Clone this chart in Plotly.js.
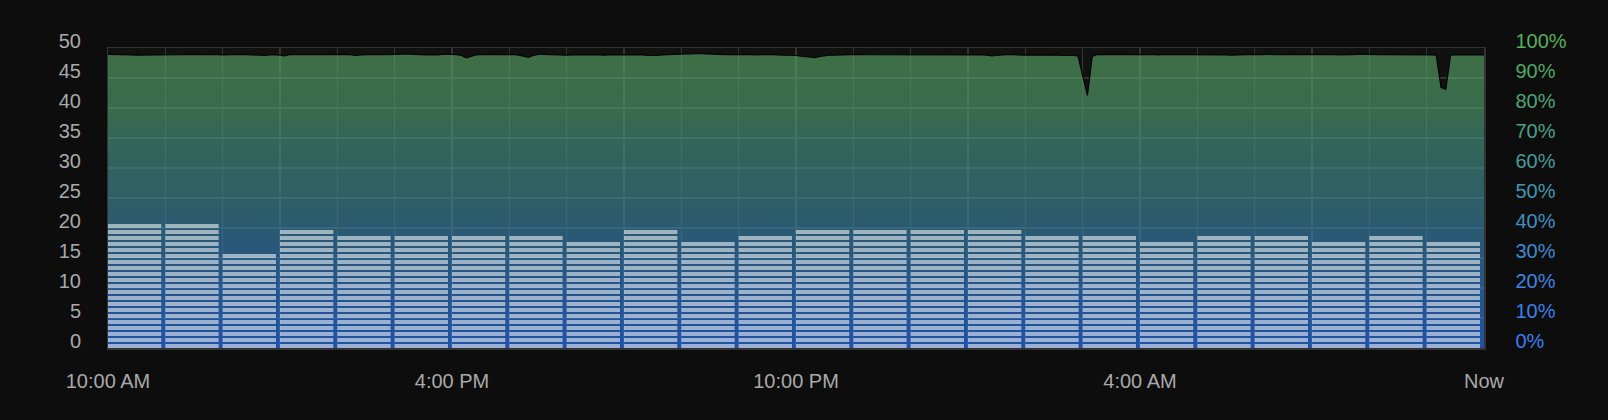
<!DOCTYPE html>
<html>
<head>
<meta charset="utf-8">
<script src="https://cdn.plot.ly/plotly-3.0.1.min.js"></script>
<style>
html,body{margin:0;padding:0;background:#0d0d0d;}
#chart{width:1608px;height:420px;}
</style>
</head>
<body>
<div id="chart"></div>
<script>
// ---------- data ----------
const startTime = Date.UTC(2024, 0, 1, 10, 0, 0);      // 10:00 AM
const xTickLabels = ['10:00 AM', '4:00 PM', '10:00 PM', '4:00 AM', 'Now'];

// count of segments per hourly bar (left axis)
const hourlyCounts = [21, 21, 16, 20, 19, 19, 19, 19, 18, 20, 18, 19,
                      20, 20, 20, 20, 19, 19, 18, 19, 19, 18, 19, 18];

// percentage series, one reading every 5 minutes (right axis)
const uptimePct = [
  97.9,97.9,97.8,97.8,97.7,97.7,97.6,97.6,97.6,97.6,97.7,97.8,
  97.8,97.8,97.7,97.8,97.9,97.9,97.8,97.8,97.9,98.0,97.9,97.8,
  97.7,97.8,97.8,97.9,97.9,97.8,97.7,97.6,97.7,97.5,97.8,97.8,
  97.6,97.4,97.8,97.8,97.9,97.9,97.8,97.8,97.9,97.9,98.0,97.9,
  97.9,98.0,97.9,97.7,97.5,97.7,97.8,97.8,97.9,97.8,97.7,97.8,
  97.9,98.0,98.1,98.0,97.9,97.8,97.6,97.7,97.8,97.7,97.9,98.0,
  97.9,97.8,97.5,96.7,97.3,97.7,97.8,97.9,98.0,97.9,97.8,97.8,
  97.9,97.8,97.6,97.3,96.9,97.5,97.9,97.9,97.8,97.8,97.8,97.7,
  97.6,97.7,97.7,97.8,97.8,97.9,97.8,97.7,97.6,97.8,97.8,97.7,
  97.7,97.8,97.9,97.8,97.7,97.5,97.4,97.5,97.7,97.8,97.7,97.8,
  97.9,98.0,98.0,98.2,98.1,98.0,97.9,98.0,97.9,97.8,97.8,97.7,
  97.8,97.9,97.8,97.8,97.7,97.8,97.9,97.8,97.7,97.7,97.6,97.7,
  97.5,97.3,97.2,97.0,96.8,97.2,97.5,97.6,97.6,97.7,97.7,97.8,
  97.9,97.9,97.8,97.8,97.7,97.8,97.8,97.7,97.8,97.9,97.8,97.7,
  97.7,97.8,97.9,97.8,97.8,97.9,97.9,97.8,97.8,97.7,97.8,97.9,
  97.9,97.8,97.8,97.7,97.6,97.4,97.5,97.7,97.8,97.8,97.7,97.6,
  97.6,97.7,97.7,97.8,97.7,97.7,97.6,97.6,97.5,97.6,97.5,97.4,
  91.0,84.2,97.2,97.8,97.9,97.9,98.0,97.9,97.9,97.8,97.9,97.9,
  97.8,97.9,97.8,97.8,97.7,97.9,97.8,97.9,97.8,97.8,97.8,97.9,
  97.9,97.8,97.7,97.8,97.9,97.8,97.7,97.6,97.7,97.8,97.8,97.9,
  97.9,97.8,97.9,97.9,97.8,97.7,97.8,97.9,97.8,97.7,97.8,97.9,
  97.9,98.0,97.9,97.8,97.9,97.8,97.7,97.8,97.8,97.8,97.9,97.9,
  97.8,97.7,97.8,97.8,97.8,97.8,97.9,97.8,97.8,97.8,97.7,97.7,
  97.7,97.7,97.6,86.9,86.2,97.6,97.7,97.7,97.7,97.7,97.7,97.7,
  97.7
];

const countTickValues = [0, 5, 10, 15, 20, 25, 30, 35, 40, 45, 50];
const pctTickValues = [0, 10, 20, 30, 40, 50, 60, 70, 80, 90, 100];
const pctTickColors = ['#3a7cf0', '#3a80ec', '#3b85e2', '#3d8ad4', '#3f90c2',
                       '#4296b0', '#459c9c', '#48a188', '#4ba575', '#4ea864', '#55b05a'];

// ---------- build traces ----------
const HOUR = 3600000;
const FIVE_MIN = 300000;
const pctTimes = uptimePct.map((_, i) => startTime + i * FIVE_MIN);

const segX = [], segBase = [], segH = [];
hourlyCounts.forEach((n, h) => {
  for (let k = 0; k < n; k++) {
    segX.push(startTime + h * HOUR);
    segBase.push(k);
    segH.push(0.65);
  }
});

const areaTrace = {
  type: 'scatter',
  mode: 'lines',
  x: pctTimes,
  y: uptimePct,
  xaxis: 'x',
  yaxis: 'y',
  fill: 'tozeroy',
  line: {color: '#050505', width: 1.2},
  fillgradient: {
    type: 'vertical',
    start: 0,
    stop: 100,
    colorscale: [
      [0.0, 'rgba(43,122,255,0.62)'],
      [0.3, 'rgba(53,129,191,0.62)'],
      [0.4, 'rgba(58,135,171,0.62)'],
      [0.5, 'rgba(64,143,153,0.62)'],
      [0.7, 'rgba(72,153,132,0.62)'],
      [0.8, 'rgba(82,162,111,0.62)'],
      [1.0, 'rgba(90,169,101,0.62)']
    ]
  },
  hoverinfo: 'skip'
};

const barTrace = {
  type: 'bar',
  x: segX,
  y: segH,
  base: segBase,
  xaxis: 'x',
  yaxis: 'y2',
  offset: 0,
  width: 0.93 * HOUR,
  marker: {color: 'rgba(255,255,255,0.55)', line: {width: 0}},
  hoverinfo: 'skip'
};

const tickFont = {family: '"Liberation Sans", Arial, sans-serif', size: 20, color: '#a9a9a9'};

const layout = {
  width: 1608,
  height: 420,
  paper_bgcolor: '#0d0d0d',
  plot_bgcolor: '#111111',
  margin: {l: 108, r: 124, t: 48, b: 72},
  showlegend: false,
  barmode: 'overlay',
  hovermode: false,
  xaxis: {
    type: 'date',
    range: [startTime, startTime + 24 * HOUR],
    tickvals: xTickLabels.map((_, i) => startTime + i * 6 * HOUR),
    ticktext: xTickLabels,
    tickfont: tickFont,
    ticks: '',
    ticklabelstandoff: 14,
    showgrid: true,
    gridcolor: '#333333',
    gridwidth: 1.5,
    minor: {dtick: HOUR, showgrid: true, gridcolor: '#333333', gridwidth: 1.5, ticks: ''},
    showline: true,
    mirror: true,
    linecolor: '#333333',
    linewidth: 1.5,
    zeroline: false,
    fixedrange: true
  },
  yaxis: {
    side: 'right',
    range: [0, 100],
    tickvals: pctTickValues,
    ticktext: pctTickValues.map((v, i) => '<span style="color:' + pctTickColors[i] + '">' + v + '%</span>'),
    tickfont: tickFont,
    ticks: '',
    ticklabelshift: -7,
    ticklabelstandoff: 26,
    showgrid: true,
    gridcolor: '#333333',
    gridwidth: 1.5,
    showline: true,
    mirror: true,
    linecolor: '#333333',
    linewidth: 1.5,
    zeroline: false,
    fixedrange: true
  },
  yaxis2: {
    overlaying: 'y',
    side: 'left',
    range: [0, 50],
    tickvals: countTickValues,
    ticktext: countTickValues.map(String),
    tickfont: tickFont,
    ticks: '',
    ticklabelshift: -7,
    ticklabelstandoff: 26,
    showgrid: false,
    showline: false,
    zeroline: false,
    fixedrange: true
  }
};

Plotly.newPlot('chart', [areaTrace, barTrace], layout, {displayModeBar: false, staticPlot: true});
</script>
</body>
</html>
